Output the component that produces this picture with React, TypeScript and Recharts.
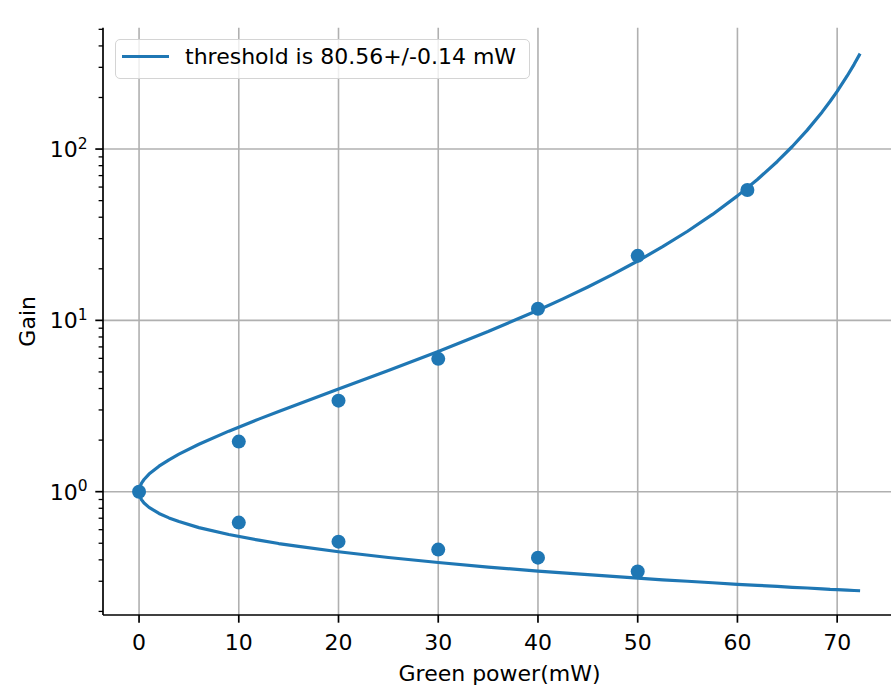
import React from 'react';
import {
    ComposedChart,
    Line,
    Scatter,
    XAxis,
    YAxis,
    CartesianGrid,
} from 'recharts';

// fitted gain curve
const curvePower = [0, 0.05, 0.25, 0.5, 1, 2, 3, 4, 6, 9, 12, 14, 16, 20, 25, 30, 35, 40, 42.5, 45, 47.5, 50, 52.5, 55, 57.5, 60, 62, 64, 65.5, 67, 68.5, 69.3, 70, 71, 71.7, 72.3];
const upperGain = [1, 1.052, 1.122, 1.178, 1.267, 1.409, 1.535, 1.656, 1.892, 2.256, 2.652, 2.941, 3.254, 3.972, 5.097, 6.583, 8.607, 11.46, 13.35, 15.67, 18.56, 22.21, 26.92, 33.13, 41.54, 53.29, 66.4, 84.65, 103.5, 129.0, 164.8, 190.2, 217.3, 267.0, 312.3, 360.7];
const lowerGain = [1, 0.952, 0.897, 0.859, 0.81, 0.746, 0.703, 0.669, 0.617, 0.562, 0.521, 0.498, 0.479, 0.446, 0.413, 0.386, 0.363, 0.344, 0.3355, 0.328, 0.32, 0.313, 0.306, 0.3, 0.294, 0.288, 0.284, 0.28, 0.2765, 0.274, 0.271, 0.269, 0.268, 0.266, 0.265, 0.264];

// measured points
const upperPointPower = [0, 10, 20, 30, 40, 50, 61];
const upperPointGain = [1, 1.96, 3.4, 5.96, 11.7, 23.8, 57.7];
const lowerPointPower = [10, 20, 30, 40, 50];
const lowerPointGain = [0.66, 0.511, 0.459, 0.412, 0.342];

// axes
const xTicks = [0, 10, 20, 30, 40, 50, 60, 70];
const xDomain = [-3.615, 75.9];
const yDomain = [0.1906, 511];
const yMajorTicks = [1, 10, 100];
const yMajorExps = ['0', '1', '2'];
const yMinorTicks = [0.2, 0.3, 0.4, 0.5, 0.6, 0.7, 0.8, 0.9, 2, 3, 4, 5, 6, 7, 8, 9, 20, 30, 40, 50, 60, 70, 80, 90, 200, 300, 400, 500];

const legendText = 'threshold is 80.56+/-0.14 mW';
const xLabel = 'Green power(mW)';
const yLabel = 'Gain';

const BLUE = '#1f77b4';
const FONT = '"DejaVu Sans", sans-serif';
const FS = 22;

const curveData = [
    ...curvePower.map((p, i) => ({ p, g: lowerGain[i] })).reverse(),
    ...curvePower.slice(1).map((p, i) => ({ p, g: upperGain[i + 1] })),
];

const pointData = [
    ...upperPointPower.map((p, i) => ({ p, g: upperPointGain[i] })),
    ...lowerPointPower.map((p, i) => ({ p, g: lowerPointGain[i] })),
];

const XTick = (props: any) => {
    const { x, y, payload } = props;
    return (
        <g>
            <line x1={x} x2={x} y1={y} y2={y + 7.7} stroke="#000" strokeWidth={1.7} />
            <text x={x} y={y + 35} textAnchor="middle" fontSize={FS} fontFamily={FONT} fill="#000">
                {payload.value}
            </text>
        </g>
    );
};

const YTick = (props: any) => {
    const { x, y, payload } = props;
    const idx = yMajorTicks.indexOf(payload.value);
    const major = idx >= 0;
    return (
        <g>
            <line
                x1={x}
                x2={x - (major ? 7.7 : 4.4)}
                y1={y}
                y2={y}
                stroke="#000"
                strokeWidth={major ? 1.7 : 1.3}
            />
            {major && (
                <text x={x - 15.4} y={y + 8} textAnchor="end" fontSize={FS} fontFamily={FONT} fill="#000">
                    10
                    <tspan dy={-8.5} fontSize={15.5}>
                        {yMajorExps[idx]}
                    </tspan>
                </text>
            )}
        </g>
    );
};

const App: React.FC = () => {
    return (
        <div style={{ position: 'absolute', left: 0, top: 0, width: 891, height: 686, overflow: 'hidden', background: '#fff' }}>
            <ComposedChart
                width={900}
                height={686}
                margin={{ top: 27.7, right: 4, bottom: 0, left: 0 }}
            >
                {/* Grid lines */}
                <CartesianGrid
                    stroke="#b0b0b0"
                    strokeWidth={1.6}
                    verticalValues={xTicks}
                    horizontalValues={yMajorTicks}
                />

                {/* Axes */}
                <XAxis
                    dataKey="p"
                    type="number"
                    domain={xDomain}
                    allowDataOverflow
                    ticks={xTicks}
                    interval={0}
                    height={71}
                    tickSize={0}
                    tickMargin={0}
                    tickLine={false}
                    axisLine={{ stroke: '#000', strokeWidth: 1.7 }}
                    tick={<XTick />}
                    label={{
                        content: (p: any) => (
                            <text
                                x={p.viewBox.x + p.viewBox.width / 2}
                                y={p.viewBox.y + 66}
                                textAnchor="middle"
                                fontSize={FS}
                                fontFamily={FONT}
                                fill="#000"
                            >
                                {xLabel}
                            </text>
                        ),
                    }}
                />
                <XAxis
                    xAxisId="top"
                    orientation="top"
                    type="number"
                    domain={xDomain}
                    allowDataOverflow
                    height={0}
                    tick={false}
                    tickLine={false}
                    axisLine={{ stroke: '#000', strokeWidth: 1.7 }}
                />
                <YAxis
                    dataKey="g"
                    type="number"
                    scale="log"
                    domain={yDomain}
                    allowDataOverflow
                    ticks={[...yMinorTicks, ...yMajorTicks].sort((a, b) => a - b)}
                    interval={0}
                    width={103}
                    tickSize={0}
                    tickMargin={0}
                    tickLine={false}
                    axisLine={{ stroke: '#000', strokeWidth: 1.7 }}
                    tick={<YTick />}
                    label={{
                        content: (p: any) => {
                            const cx = p.viewBox.x + 35;
                            const cy = p.viewBox.y + p.viewBox.height / 2;
                            return (
                                <text
                                    x={cx}
                                    y={cy}
                                    transform={`rotate(-90 ${cx} ${cy})`}
                                    textAnchor="middle"
                                    fontSize={FS}
                                    fontFamily={FONT}
                                    fill="#000"
                                >
                                    {yLabel}
                                </text>
                            );
                        },
                    }}
                />

                {/* Points */}
                <Scatter
                    data={pointData}
                    fill={BLUE}
                    isAnimationActive={false}
                    shape={(s: any) => <circle cx={s.cx} cy={s.cy} r={7} fill={BLUE} />}
                />

                {/* Fitted curve */}
                <Line
                    data={curveData}
                    dataKey="g"
                    type="linear"
                    stroke={BLUE}
                    strokeWidth={3.2}
                    strokeLinejoin="round"
                    dot={false}
                    activeDot={false}
                    isAnimationActive={false}
                />
            </ComposedChart>

            {/* Legend */}
            <div
                style={{
                    position: 'absolute',
                    left: 115,
                    top: 39,
                    width: 415,
                    height: 40,
                    boxSizing: 'border-box',
                    border: '1.5px solid #d4d4d4',
                    borderRadius: 5,
                    background: 'rgba(255,255,255,0.8)',
                    fontFamily: FONT,
                }}
            >
                <div style={{ position: 'absolute', left: 5.5, top: 15.2, width: 47.5, height: 3.2, background: BLUE }} />
                <span style={{ position: 'absolute', left: 69, top: 3.5, fontSize: FS, lineHeight: '26px', color: '#000', whiteSpace: 'nowrap' }}>
                    {legendText}
                </span>
            </div>
        </div>
    );
};

export default App;
